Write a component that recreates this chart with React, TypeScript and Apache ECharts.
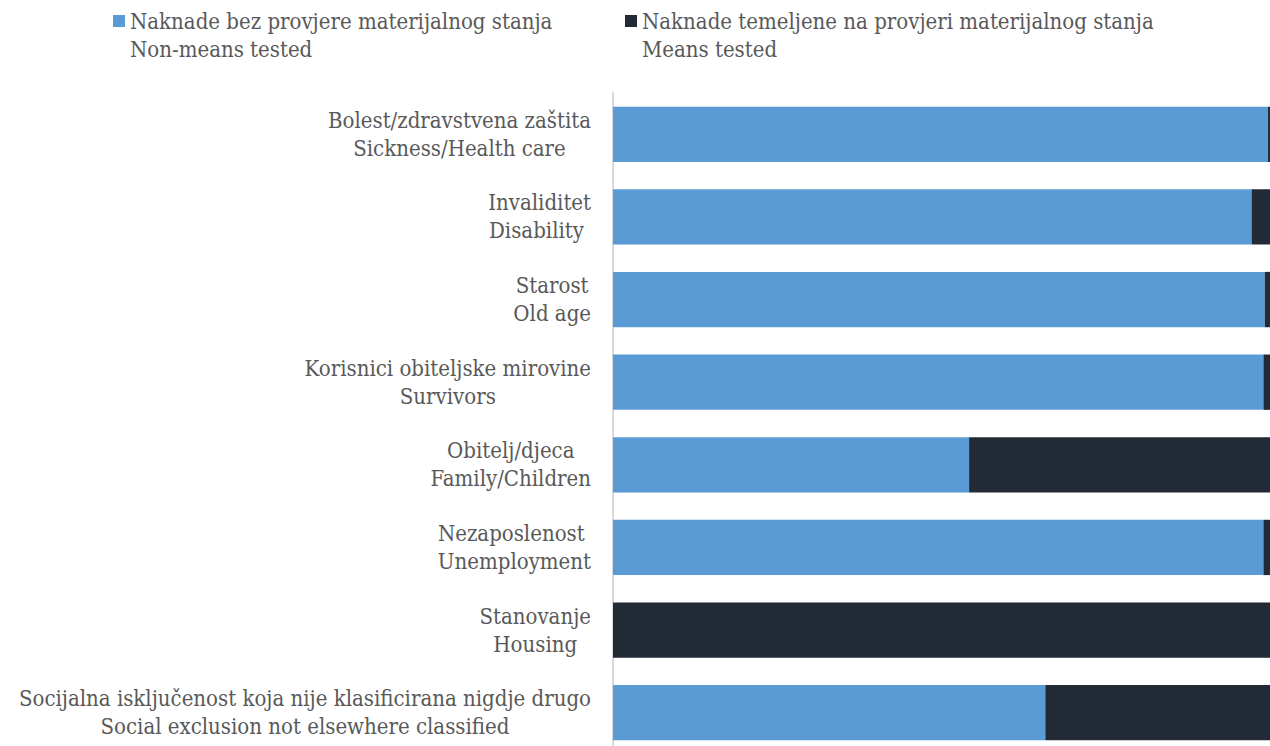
import React, { useEffect, useRef } from "react";
import * as echarts from "echarts";

const categories: string[] = [
  "Bolest/zdravstvena zaštita\nSickness/Health care",
  "Invaliditet\nDisability ",
  "Starost\nOld age",
  "Korisnici obiteljske mirovine\nSurvivors",
  "Obitelj/djeca\nFamily/Children",
  "Nezaposlenost \nUnemployment",
  "Stanovanje\nHousing",
  "Socijalna isključenost koja nije klasificirana nigdje drugo\nSocial exclusion not elsewhere classified",
];

const seriesNames: string[] = [
  "Naknade bez provjere materijalnog stanja\nNon-means tested",
  "Naknade temeljene na provjeri materijalnog stanja\nMeans tested",
];

const nonMeansTested: number[] = [99.7, 97.2, 99.2, 99.0, 54.2, 99.0, 0, 65.8];
const meansTested: number[] = [0.3, 2.8, 0.8, 1.0, 45.8, 1.0, 100, 34.2];

const FONT = "'DejaVu Serif Condensed', 'Liberation Serif', serif";
const TEXT_COLOR = "#595959";
const COLORS = ["#5B9BD5", "#222A35"];
const FS = 22;

export default function App() {
  const ref = useRef<HTMLDivElement>(null);

  useEffect(() => {
    if (!ref.current) return;
    const chart = echarts.init(ref.current, undefined, { renderer: "svg" });
    const legendBase = {
      top: -21,
      padding: 0,
      icon: "rect",
      itemWidth: 12,
      itemHeight: 12,
      itemGap: 0,
      // a leading blank line keeps the first text line level with the icon
      formatter: (name: string) => " \n" + name,
      textStyle: {
        color: TEXT_COLOR,
        fontFamily: FONT,
        fontSize: FS,
        lineHeight: 28,
      },
    };
    chart.setOption({
      animation: false,
      backgroundColor: "#ffffff",
      color: COLORS,
      legend: [
        { ...legendBase, data: [seriesNames[0]], left: 113 },
        { ...legendBase, data: [seriesNames[1]], left: 625 },
      ],
      grid: {
        left: 613,
        right: 0,
        top: 93,
        bottom: 6,
        containLabel: false,
      },
      xAxis: {
        type: "value",
        min: 0,
        max: 100,
        show: false,
      },
      yAxis: {
        type: "category",
        inverse: true,
        data: categories,
        axisTick: { show: false },
        axisLine: { show: true, lineStyle: { color: "#D9D9D9", width: 2 } },
        splitLine: { show: false },
        axisLabel: {
          margin: 22,
          color: TEXT_COLOR,
          fontFamily: FONT,
          fontSize: FS,
          lineHeight: 28,
          formatter: (v: string) =>
            v
              .split("\n")
              .map((l) => `{c|${l}}`)
              .join("\n"),
          rich: {
            c: {
              align: "center",
              color: TEXT_COLOR,
              fontFamily: FONT,
              fontSize: FS,
              lineHeight: 28,
            },
          },
        },
      },
      series: [
        {
          name: seriesNames[0],
          type: "bar",
          stack: "total",
          data: nonMeansTested,
          barCategoryGap: "33%",
          itemStyle: { color: COLORS[0] },
        },
        {
          name: seriesNames[1],
          type: "bar",
          stack: "total",
          data: meansTested,
          barCategoryGap: "33%",
          itemStyle: { color: COLORS[1] },
        },
      ],
    });
    return () => chart.dispose();
  }, []);

  return (
    <div
      ref={ref}
      style={{ position: "fixed", left: 0, top: 0, width: 1270, height: 760 }}
    />
  );
}
